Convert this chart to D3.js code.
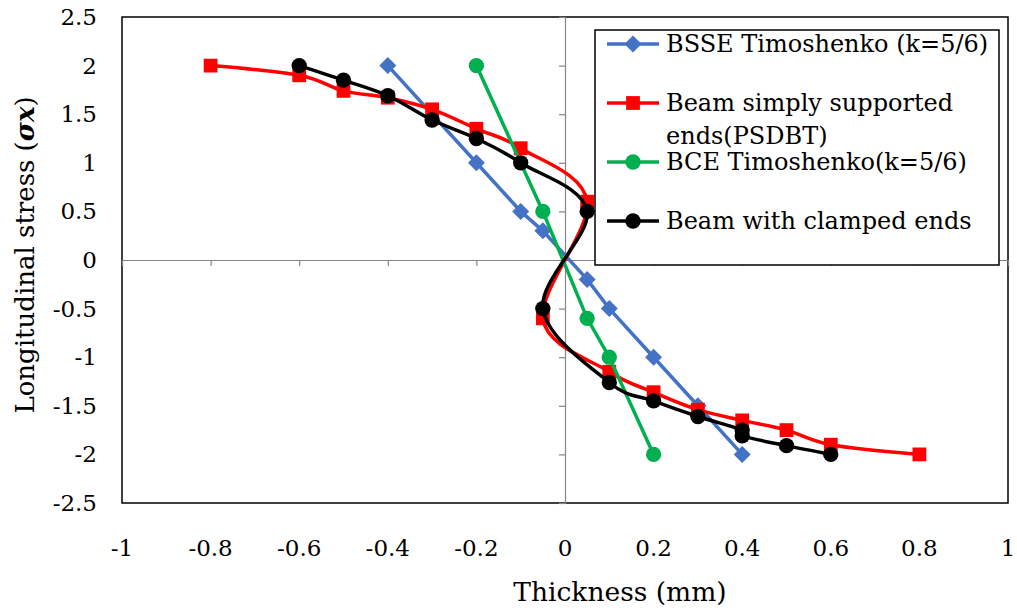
<!DOCTYPE html>
<html>
<head>
<meta charset="utf-8">
<script src="https://cdn.jsdelivr.net/npm/d3@7"></script>
<style>
  body { margin: 0; background: #fff; }
  text { font-family: "DejaVu Serif", serif; }
</style>
</head>
<body>
<script>
/*** data ***/
const xTicks = [-1, -0.8, -0.6, -0.4, -0.2, 0, 0.2, 0.4, 0.6, 0.8, 1];
const yTicks = [-2.5, -2, -1.5, -1, -0.5, 0, 0.5, 1, 1.5, 2, 2.5];

const bsseX = [-0.4, -0.2, -0.1, -0.05, 0.05, 0.1, 0.2, 0.3, 0.4];
const bsseY = [2, 1, 0.5, 0.3, -0.2, -0.5, -1, -1.5, -2];

const ssX = [-0.8, -0.6, -0.5, -0.4, -0.3, -0.2, -0.1, 0.05, -0.05, 0.1, 0.2, 0.3, 0.4, 0.5, 0.6, 0.8];
const ssY = [2, 1.9, 1.74, 1.67, 1.55, 1.35, 1.15, 0.6, -0.6, -1.15, -1.36, -1.54, -1.65, -1.75, -1.9, -2];

const bceX = [-0.2, -0.05, 0.05, 0.1, 0.2];
const bceY = [2, 0.5, -0.6, -1, -2];

const clX = [-0.6, -0.5, -0.4, -0.3, -0.2, -0.1, 0.05, -0.05, 0.1, 0.2, 0.3, 0.4, 0.4, 0.5, 0.6];
const clY = [2, 1.85, 1.69, 1.44, 1.25, 1, 0.5, -0.5, -1.26, -1.45, -1.61, -1.75, -1.81, -1.91, -2];

const seriesNames = ["BSSE Timoshenko (k=5/6)", "Beam simply supported|ends(PSDBT)", "BCE Timoshenko(k=5/6)", "Beam with clamped ends"];

/*** layout ***/
const width = 1017, height = 610;
const margin = { left: 122, top: 17, right: 9, bottom: 107 };

const svg = d3.select("body").append("svg")
  .attr("width", width)
  .attr("height", height);

const x = d3.scaleLinear().domain([-1, 1]).range([margin.left, width - margin.right]);
const y = d3.scaleLinear().domain([-2.5, 2.5]).range([height - margin.bottom, margin.top]);

// plot border
svg.append("rect")
  .attr("x", x(-1)).attr("y", y(2.5))
  .attr("width", x(1) - x(-1)).attr("height", y(-2.5) - y(2.5))
  .attr("fill", "#fff").attr("stroke", "#000").attr("stroke-width", 1.5);

// axes crossing at zero
const xAxis = svg.append("g")
  .attr("transform", `translate(0,${y(0)})`)
  .call(d3.axisBottom(x).tickValues(xTicks).tickSize(6).tickFormat(""));
const yAxis = svg.append("g")
  .attr("transform", `translate(${x(0)},0)`)
  .call(d3.axisLeft(y).tickValues(yTicks).tickSize(6).tickFormat(""));
[xAxis, yAxis].forEach(g => {
  g.select(".domain").attr("stroke", "#868686").attr("stroke-width", 1.2);
  g.selectAll(".tick line").attr("stroke", "#868686").attr("stroke-width", 1.2);
});

// tick labels on the outside
svg.append("g").selectAll("text")
  .data(xTicks)
  .join("text")
  .attr("x", d => x(d))
  .attr("y", 556)
  .attr("text-anchor", "middle")
  .attr("font-size", 23)
  .text(d => d);

svg.append("g").selectAll("text")
  .data(yTicks)
  .join("text")
  .attr("x", 97)
  .attr("y", d => y(d) + 8)
  .attr("text-anchor", "end")
  .attr("font-size", 23)
  .text(d => d);

// axis titles
svg.append("text")
  .attr("x", 620).attr("y", 601)
  .attr("text-anchor", "middle")
  .attr("font-size", 26.5)
  .text("Thickness (mm)");

const yt = svg.append("text")
  .attr("transform", "translate(34,255) rotate(-90)")
  .attr("text-anchor", "middle")
  .attr("font-size", 26);
yt.append("tspan").text("Longitudinal stress (");
yt.append("tspan").attr("font-weight", "bold").attr("font-style", "italic").text("σx");
yt.append("tspan").text(")");

/*** series ***/
const series = [
  { xs: bsseX, ys: bsseY, color: "#4472C4", marker: "diamond", smooth: false },
  { xs: ssX, ys: ssY, color: "#FF0000", marker: "square", smooth: true },
  { xs: bceX, ys: bceY, color: "#00B050", marker: "circle", smooth: false },
  { xs: clX, ys: clY, color: "#000000", marker: "circle", smooth: true }
];

const symbolOf = {
  diamond: d3.symbol().type(d3.symbolSquare).size(144),
  square: d3.symbol().type(d3.symbolSquare).size(190),
  circle: d3.symbol().type(d3.symbolCircle).size(185)
};

series.forEach(s => {
  const pts = s.xs.map((v, i) => [v, s.ys[i]]);
  const line = d3.line()
    .x(d => x(d[0]))
    .y(d => y(d[1]))
    .curve(s.smooth ? d3.curveCatmullRom.alpha(0) : d3.curveLinear);

  svg.append("path")
    .datum(pts)
    .attr("d", line)
    .attr("fill", "none")
    .attr("stroke", s.color)
    .attr("stroke-width", 3.5);

  svg.append("g").selectAll("path")
    .data(pts)
    .join("path")
    .attr("d", symbolOf[s.marker])
    .attr("transform", d => `translate(${x(d[0])},${y(d[1])})` + (s.marker === "diamond" ? " rotate(45)" : ""))
    .attr("fill", s.color);
});

/*** legend ***/
const lg = svg.append("g");
lg.append("rect")
  .attr("x", 595).attr("y", 30)
  .attr("width", 404).attr("height", 235)
  .attr("fill", "#fff").attr("stroke", "#000").attr("stroke-width", 1.5);

const legendY = [44, 103, 162, 221];
series.forEach((s, i) => {
  const ly = legendY[i];
  lg.append("line")
    .attr("x1", 607).attr("x2", 659).attr("y1", ly).attr("y2", ly)
    .attr("stroke", s.color).attr("stroke-width", 3.5);
  lg.append("path")
    .attr("d", symbolOf[s.marker])
    .attr("transform", `translate(633,${ly})` + (s.marker === "diamond" ? " rotate(45)" : ""))
    .attr("fill", s.color);
  const t = lg.append("text")
    .attr("x", 666).attr("y", ly + 8)
    .attr("font-size", 24);
  seriesNames[i].split("|").forEach((part, j) => {
    t.append("tspan").attr("x", 666).attr("dy", j ? 33 : 0).text(part);
  });
});
</script>
</body>
</html>
